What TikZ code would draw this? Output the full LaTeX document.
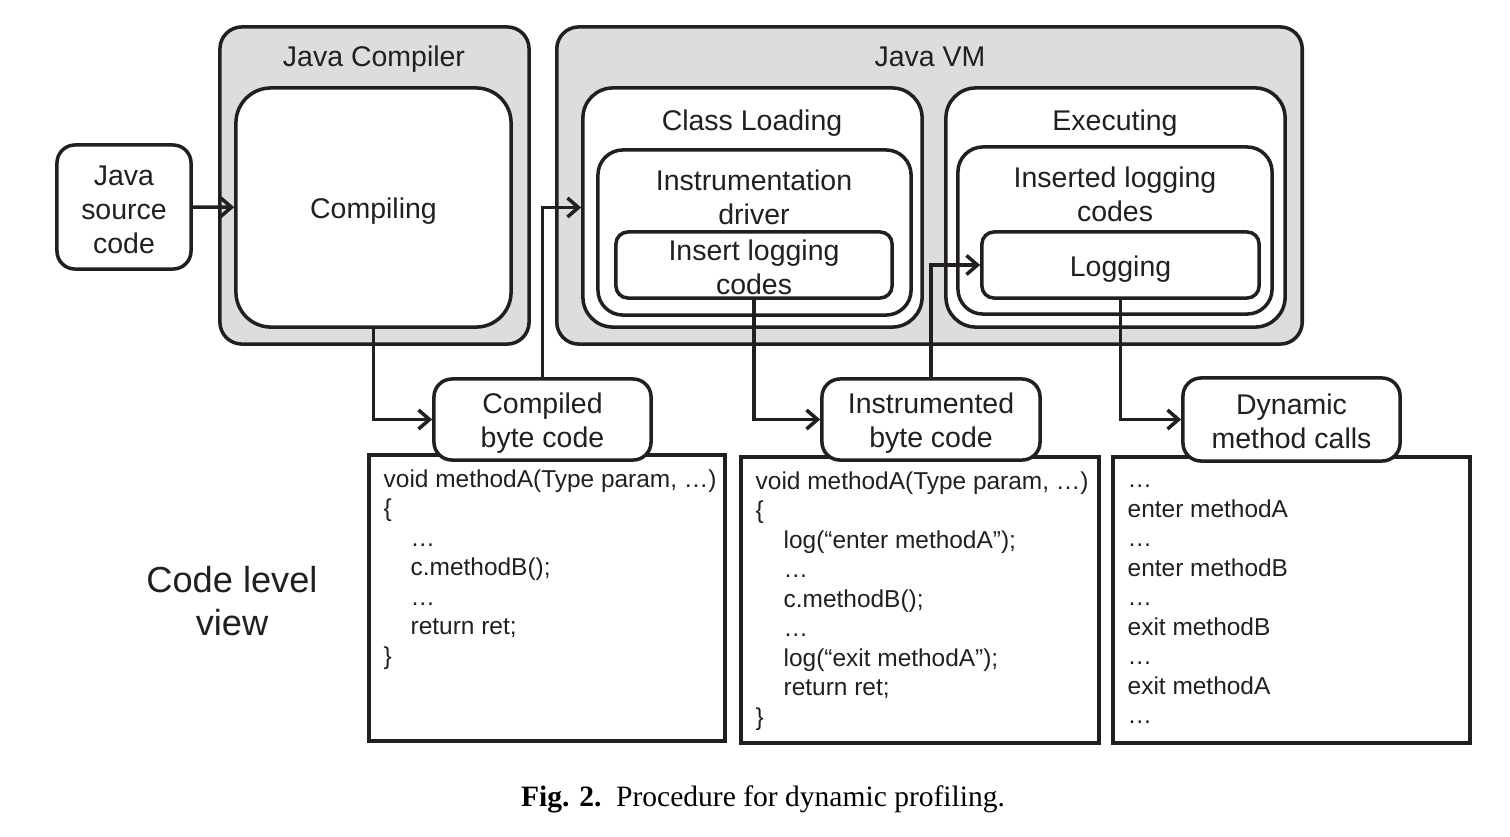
\documentclass[tikz,border=0pt]{standalone}
\usepackage{fontspec}
\setmainfont{Liberation Sans}
\newfontfamily\capfont{Liberation Serif}
\usepackage{tikz}
\usetikzlibrary{arrows.meta,positioning,calc}
\definecolor{ink}{HTML}{231F20}
\definecolor{shade}{HTML}{DCDDDF}
\newcommand{\mainsize}{\fontsize{8.1pt}{9.7pt}\selectfont}
\newcommand{\codesize}{\fontsize{6.95pt}{8.4pt}\selectfont}
\newcommand{\topstrut}{\rule{0pt}{8pt}}
\newcommand{\botstrut}{\rule[-1pt]{0pt}{1pt}}
\tikzset{
    group/.style = {draw=ink, line width=1pt, fill=shade, rounded corners=0.22cm, inner sep=0pt},
    stage/.style = {draw=ink, line width=1pt, fill=white, rounded corners=#1, inner sep=0pt,
                    align=center, font=\mainsize, text=ink},
    stage/.default = 0.18cm,
    title/.style = {font=\mainsize, text=ink, align=center, inner sep=0pt},
    codebox/.style = {draw=ink, line width=1pt, fill=white, inner sep=0pt},
    codeline/.style = {anchor=base west, inner sep=0pt, font=\codesize, text=ink},
    flow/.style = {draw=ink, line width=1pt, -{Straight Barb[length=1.1mm,width=1.9mm]}}
}

\begin{document}
\begin{tikzpicture}[x=0.01cm, y=-0.01cm]
    \useasboundingbox (0,0) rectangle (1510,836);

    % outer groups
    \node[group, minimum width=3.09cm, minimum height=3.17cm] (compiler) at (374.5,185.5) {};
    \node[group, minimum width=7.45cm, minimum height=3.17cm] (vm) at (929.5,185.5) {};
    \node[title] (compilertitle) at (374,59) {Java Compiler};
    \node[title] (vmtitle) at (930,57) {Java VM};

    % stages
    \node[stage=0.18cm, minimum width=1.34cm, minimum height=1.24cm] (src) at (124,207) {\topstrut Java\\source\\code\botstrut};
    \node[stage=0.35cm, minimum width=2.75cm, minimum height=2.39cm] (compiling) at (373.5,207.5) {\topstrut Compiling\botstrut};
    \node[stage=0.3cm, minimum width=3.39cm, minimum height=2.39cm] (classload) at (752.5,207.5) {};
    \node[stage=0.3cm, minimum width=3.39cm, minimum height=2.39cm] (executing) at (1115.5,207.5) {};
    \node[title] (classtitle) at (752,123) {Class Loading};
    \node[title] (exectitle) at (1115,123) {Executing};
    \node[stage=0.25cm, minimum width=3.13cm, minimum height=1.65cm] (driver) at (754.5,232.5) {};
    \node[stage=0.25cm, minimum width=3.14cm, minimum height=1.67cm] (inserted) at (1115,230.5) {};
    \node[title] (drivertitle) at (754,197) {Instrumentation\\driver};
    \node[title] (insertedtitle) at (1115,194) {Inserted logging\\codes};
    \node[stage=0.12cm, minimum width=2.76cm, minimum height=0.66cm] (insert) at (754,265) {\topstrut Insert logging\\codes\botstrut};
    \node[stage=0.12cm, minimum width=2.77cm, minimum height=0.66cm] (logging) at (1120.5,265) {\topstrut Logging\botstrut};

    % code level view
    \node[codebox, minimum width=3.56cm, minimum height=2.86cm] (codeA) at (547,598) {};
    \node[codebox, minimum width=3.58cm, minimum height=2.86cm] (codeB) at (920,600) {};
    \node[codebox, minimum width=3.57cm, minimum height=2.86cm] (codeC) at (1291.5,600) {};
    \node[stage, minimum width=2.17cm, minimum height=0.81cm] (compiled) at (542.5,419.5) {\topstrut Compiled\\byte code\botstrut};
    \node[stage, minimum width=2.18cm, minimum height=0.81cm] (instr) at (931,419.5) {\topstrut Instrumented\\byte code\botstrut};
    \node[stage, minimum width=2.17cm, minimum height=0.83cm] (dynamic) at (1291.5,419.5) {\topstrut Dynamic\\method calls\botstrut};

    \foreach \txt/\ind [count=\i from 0] in {{void methodA(Type param, …)}/0, \{/0, …/1,
        {c.methodB();}/1, …/1, {return ret;}/1, \}/0}
        \node[codeline] (lineA\i) at ({383+27*\ind},{487+29.5*\i}) {\txt};

    \foreach \txt/\ind [count=\i from 0] in {{void methodA(Type param, …)}/0, \{/0,
        {log(“enter methodA”);}/1, …/1, {c.methodB();}/1, …/1,
        {log(“exit methodA”);}/1, {return ret;}/1, \}/0}
        \node[codeline] (lineB\i) at ({755+28*\ind},{489+29.5*\i}) {\txt};

    \foreach \txt [count=\i from 0] in {…, enter methodA, …, enter methodB, …,
        exit methodB, …, exit methodA, …}
        \node[codeline] (lineC\i) at (1127,{487.5+29.5*\i}) {\txt};

    \node[text=ink, align=center, inner sep=0pt, font=\fontsize{10.3pt}{12.2pt}\selectfont] (view) at (232,601) {Code level\\view};

    % flow
    \draw[flow] (src) -- (compiling);
    \draw[flow] (compiling.south) |- (compiled.west);
    \draw[flow] (compiled.north) |- (classload.west);
    \draw[flow] (insert.south) |- (instr.west);
    \draw[flow] (instr.north) |- (logging.west);
    \draw[flow] (logging.south) |- (dynamic.west);

    \node[inner sep=0pt] (caption) at (763,799) {\capfont\fontsize{8.4pt}{10pt}\selectfont\textbf{Fig. 2.}\enspace Procedure for dynamic profiling.};
\end{tikzpicture}
\end{document}
